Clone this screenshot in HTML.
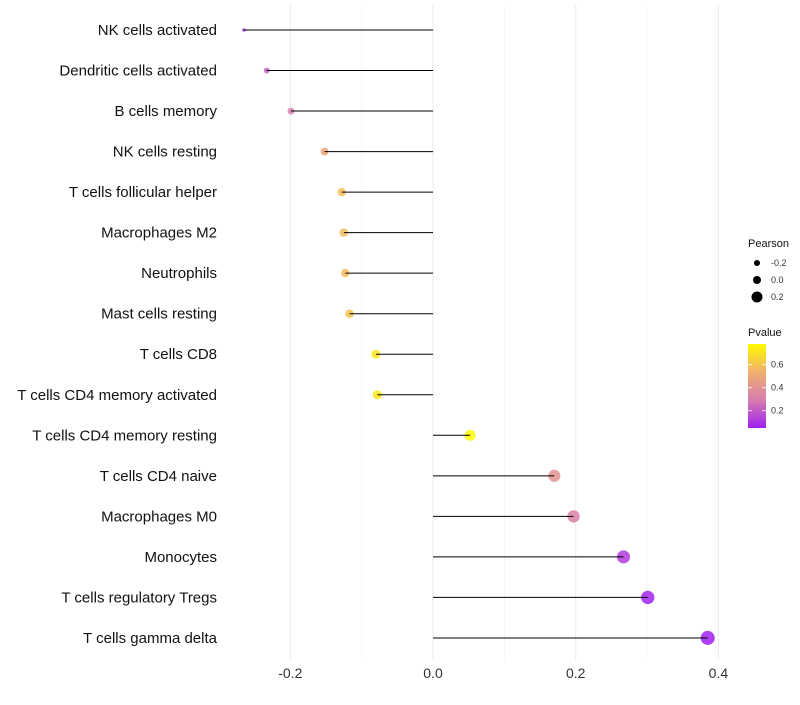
<!DOCTYPE html>
<html><head><meta charset="utf-8"><style>
body{margin:0;background:#fff;font-family:"Liberation Sans",sans-serif;}
</style></head><body>
<svg id="chart" width="800" height="700" xmlns="http://www.w3.org/2000/svg"></svg>
<script>
const categories=["NK cells activated","Dendritic cells activated","B cells memory","NK cells resting","T cells follicular helper","Macrophages M2","Neutrophils","Mast cells resting","T cells CD8","T cells CD4 memory activated","T cells CD4 memory resting","T cells CD4 naive","Macrophages M0","Monocytes","T cells regulatory  Tregs","T cells gamma delta"];
const pearson=[-0.265,-0.233,-0.199,-0.152,-0.128,-0.125,-0.123,-0.117,-0.080,-0.078,0.052,0.170,0.197,0.267,0.301,0.385];
const pvalue=[0.12,0.22,0.30,0.50,0.58,0.58,0.58,0.60,0.72,0.72,0.78,0.40,0.32,0.12,0.06,0.03];
const xTicks=[-0.2,0.0,0.2,0.4];
const xTickLabels=["-0.2","0.0","0.2","0.4"];
const minorTicks=[-0.1,0.1,0.3];
const legendSizes=[-0.2,0.0,0.2];
const legendColorTicks=[0.2,0.4,0.6];

const NS="http://www.w3.org/2000/svg";
const svg=document.getElementById('chart');
const x=v=>433+v*713.5;
const y=i=>30+i*40.53;
const r=v=>1.8+6.5*Math.sqrt(Math.max(0,v+0.265));
const pmin=0.05,pmax=0.78;
function col(p){
  let t=Math.max(0,Math.min(1,(p-pmin)/(pmax-pmin)));
  const stops=[[160,32,240],[215,125,175],[240,175,110],[255,250,0]];
  const seg=t*3;const k=Math.min(2,Math.floor(seg));const u=seg-k;
  const a=stops[k],b=stops[k+1];
  return `rgb(${a.map((c,j)=>Math.round(c+(b[j]-c)*u)).join(',')})`;
}
function el(tag,attrs,txt){const e=document.createElementNS(NS,tag);for(const k in attrs)e.setAttribute(k,attrs[k]);if(txt!==undefined)e.textContent=txt;svg.appendChild(e);return e;}
const yScale=cl=>428-(cl-pmin)/(pmax-pmin)*84;

minorTicks.forEach(v=>{const g=el('line',{x1:x(v),x2:x(v),y1:5,y2:660,stroke:'#f2f2f2','stroke-width':0.6});

});
xTicks.forEach((v,i)=>{const g=el('line',{x1:x(v),x2:x(v),y1:5,y2:660,stroke:'#ebebeb','stroke-width':1});


const t=el('text',{x:x(v),y:678,'text-anchor':'middle','font-size':14,fill:'#333'},xTickLabels[i]);

});
categories.forEach((c,i)=>{
  const yy=y(i);
  const lab=el('text',{x:217,y:yy+5,'text-anchor':'end','font-size':15,fill:'#111'},c);
  
  
  const p=el('circle',{cx:x(pearson[i]),cy:yy,r:r(pearson[i]),fill:col(pvalue[i]),'fill-opacity':0.85});
  
  
  const l=el('line',{x1:x(0),x2:x(pearson[i]),y1:yy,y2:yy,stroke:'#000','stroke-width':1});
  
  
});
const lt=el('text',{x:748,y:247,'font-size':11,fill:'#111'},'Pearson');


const legendR=[3,4,5.5];
legendSizes.forEach((v,i)=>{const yy=263+i*17;
  const c=el('circle',{cx:757,cy:yy,r:legendR[i],fill:'#000'});
  
  
  const t=el('text',{x:771,y:yy+3,'font-size':9,fill:'#333'},v.toFixed(1));
  
  });
const ct=el('text',{x:748,y:336,'font-size':11,fill:'#111'},'Pvalue');


const defs=el('defs',{});
const grad=document.createElementNS(NS,'linearGradient');grad.setAttribute('id','pg');grad.setAttribute('x1','0');grad.setAttribute('y1','1');grad.setAttribute('x2','0');grad.setAttribute('y2','0');
for(let k=0;k<=12;k++){const s=document.createElementNS(NS,'stop');s.setAttribute('offset',k/12);s.setAttribute('stop-color',col(pmin+(pmax-pmin)*k/12));grad.appendChild(s);}
defs.appendChild(grad);
const bar=el('rect',{x:748,y:344,width:18,height:84,fill:'url(#pg)'});


legendColorTicks.forEach(v=>{const yy=yScale(v);
  el('line',{x1:748,x2:752,y1:yy,y2:yy,stroke:'#fff','stroke-width':0.8});
  el('line',{x1:762,x2:766,y1:yy,y2:yy,stroke:'#fff','stroke-width':0.8});
  const t=el('text',{x:771,y:yy+3,'font-size':9,fill:'#333'},v.toFixed(1));
  
  });
</script>
</body></html>
